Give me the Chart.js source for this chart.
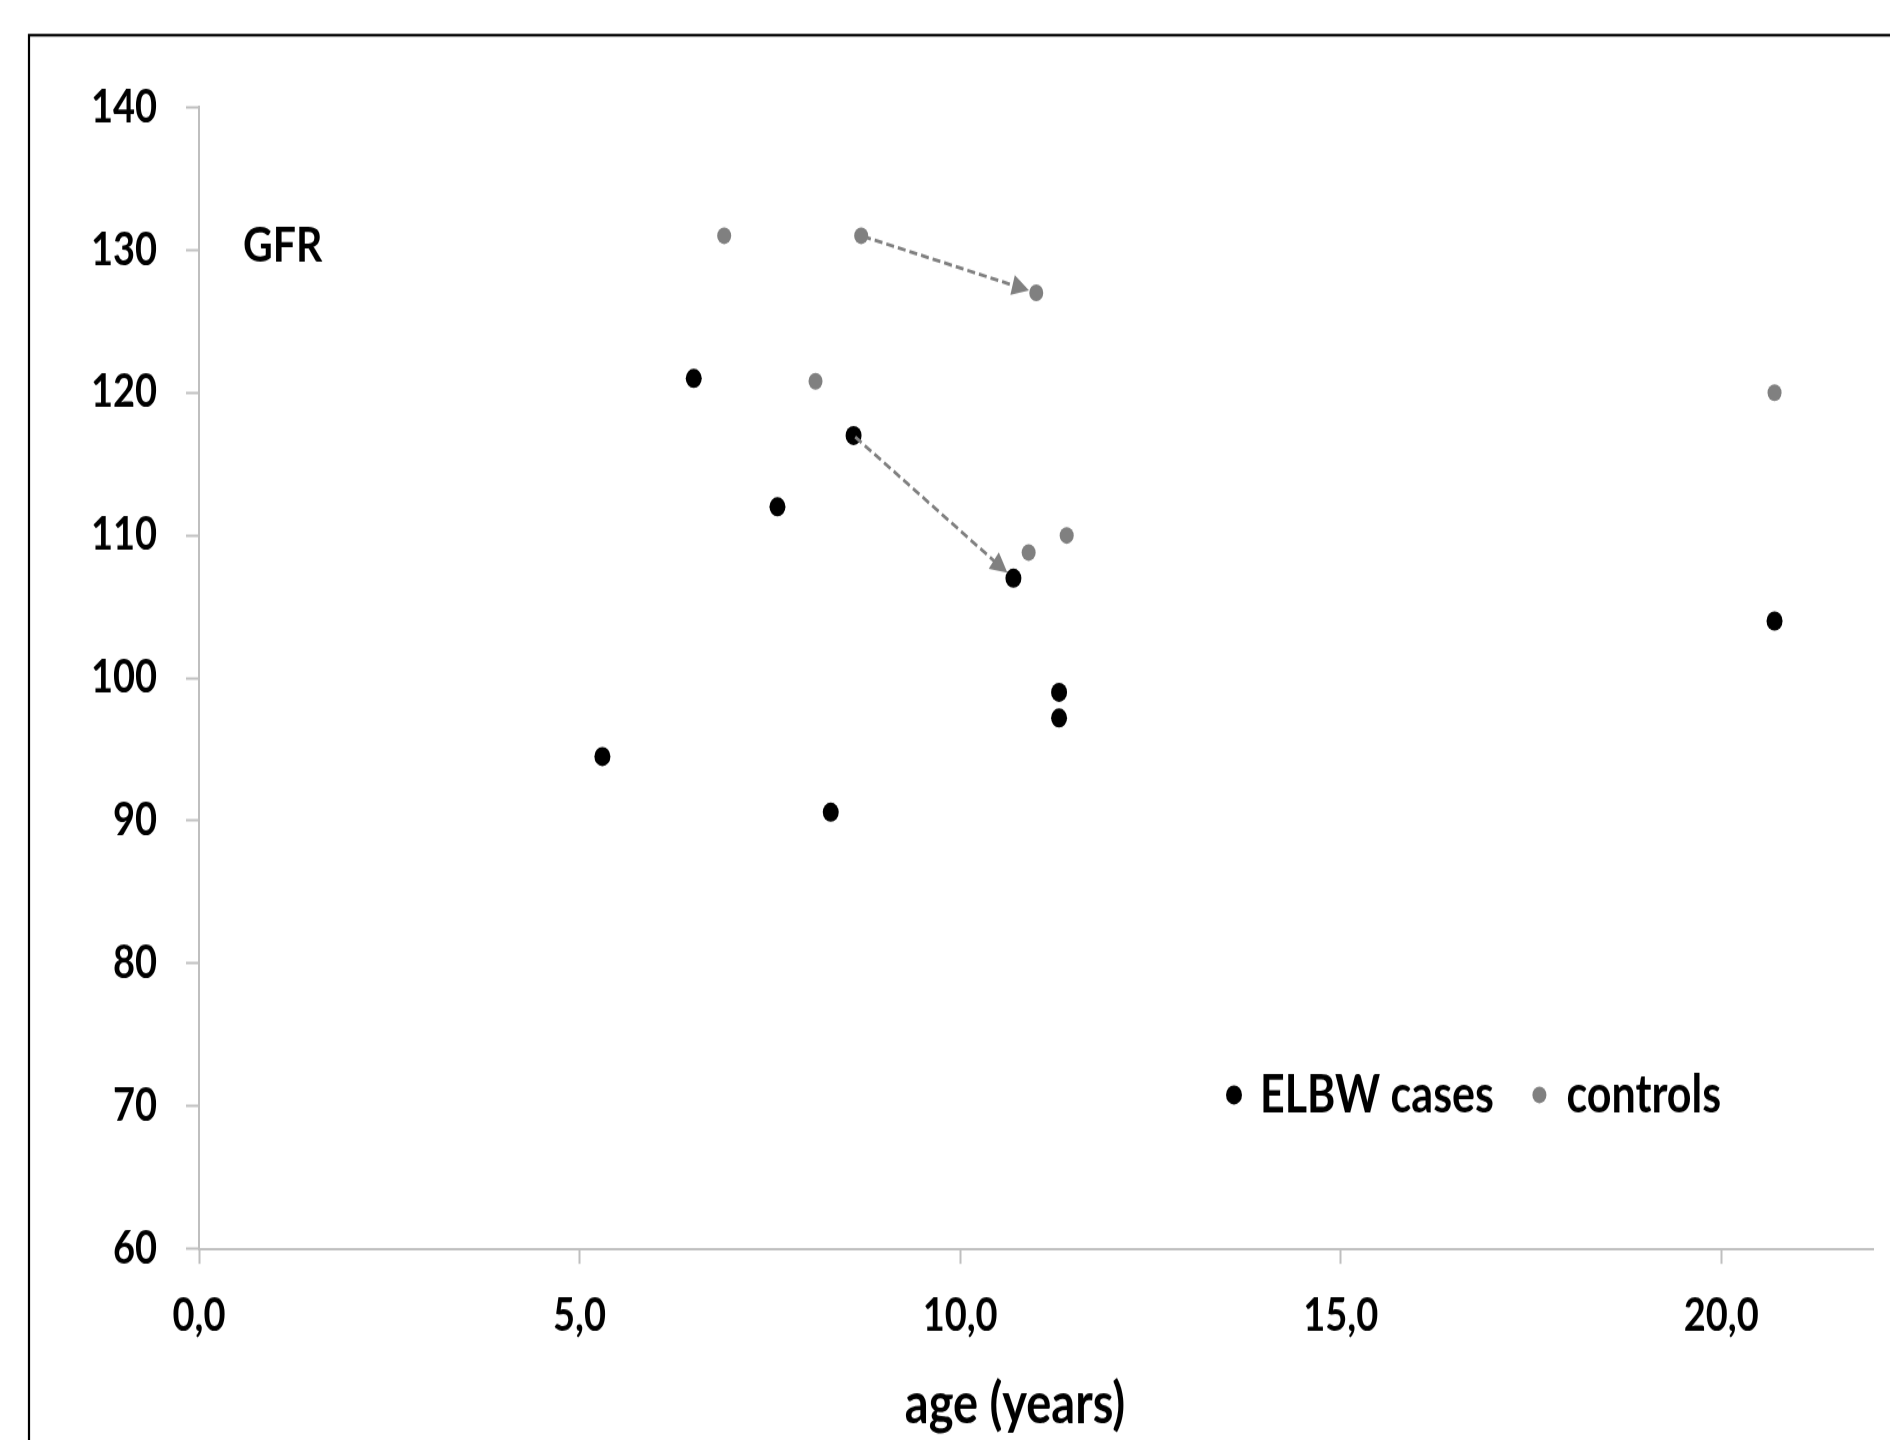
<!DOCTYPE html>
<html>
<head>
<meta charset="utf-8">
<script src="https://cdn.jsdelivr.net/npm/chart.js@4.4.1/dist/chart.umd.min.js"></script>
<style>
  html, body { margin: 0; padding: 0; background: #ffffff; overflow: hidden; }
  #wrap { position: absolute; left: 0; top: 0; width: 1890px; height: 1200px;
          transform: scaleY(1.2); transform-origin: 0 0; }
</style>
</head>
<body>
<div id="wrap"><canvas id="c" width="1890" height="1200"></canvas></div>
<script>
// ---- data ----
const seriesNames = ['ELBW cases', 'controls'];
const elbwAge = [5.3, 6.5, 7.6, 8.3, 8.6, 10.7, 11.3, 11.3, 20.7];
const elbwGFR = [94.5, 121, 112, 90.6, 117, 107, 99, 97.2, 104];
const controlAge = [6.9, 8.1, 8.7, 10.9, 11.0, 11.4, 20.7];
const controlGFR = [131, 120.8, 131, 108.8, 127, 110, 120];
// follow-up arrows (from -> to)
const arrowFromAge = [8.7, 8.6];
const arrowFromGFR = [131, 117];
const arrowToAge = [11.0, 10.7];
const arrowToGFR = [127, 107];
const xTicks = [0, 5, 10, 15, 20];
const xTickLabels = ['0,0', '5,0', '10,0', '15,0', '20,0'];
const yTicks = [60, 70, 80, 90, 100, 110, 120, 130, 140];
const xTitle = 'age (years)';
const panelLabel = 'GFR';

// ---- styling ----
const FONT = 'Lato';
const AXIS_GREY = '#bfbfbf';
const CASE_COLOR = '#000000';
const CONTROL_COLOR = '#808080';

const toPts = (xs, ys) => xs.map((x, i) => ({ x: x, y: ys[i] }));

const decor = {
  id: 'decor',
  beforeDraw(chart) {
    const ctx = chart.ctx;
    ctx.save();
    ctx.fillStyle = '#ffffff';
    ctx.fillRect(0, 0, chart.width, chart.height);
    ctx.strokeStyle = '#000000';
    ctx.lineWidth = 2.2;
    ctx.strokeRect(29, 29.3, chart.width + 100, chart.height + 100);
    ctx.restore();
  },
  afterDatasetsDraw(chart) {
    const ctx = chart.ctx;
    const xs = chart.scales.x, ys = chart.scales.y;
    const ca = chart.chartArea;
    ctx.save();
    // arrows
    for (let i = 0; i < arrowFromAge.length; i++) {
      const x1 = xs.getPixelForValue(arrowFromAge[i]);
      const y1 = ys.getPixelForValue(arrowFromGFR[i]);
      const x2c = xs.getPixelForValue(arrowToAge[i]);
      const y2c = ys.getPixelForValue(arrowToGFR[i]);
      const dx = x2c - x1, dy = y2c - y1;
      const len = Math.hypot(dx, dy);
      const ux = dx / len, uy = dy / len;
      const tipX = x2c - ux * 7.5, tipY = y2c - uy * 7.5;
      const headLen = 17, headW = 8.5;
      const baseX = tipX - ux * headLen, baseY = tipY - uy * headLen;
      ctx.strokeStyle = CONTROL_COLOR;
      ctx.lineWidth = 2.8;
      ctx.setLineDash([8, 4]);
      ctx.beginPath();
      ctx.moveTo(x1 + ux * 2, y1 + uy * 2);
      ctx.lineTo(baseX + ux * 2, baseY + uy * 2);
      ctx.stroke();
      ctx.setLineDash([]);
      ctx.fillStyle = CONTROL_COLOR;
      ctx.beginPath();
      ctx.moveTo(tipX, tipY);
      ctx.lineTo(baseX - uy * headW, baseY + ux * headW);
      ctx.lineTo(baseX + uy * headW, baseY - ux * headW);
      ctx.closePath();
      ctx.fill();
    }
    // panel label
    ctx.fillStyle = '#000000';
    ctx.font = 'bold 41px ' + FONT;
    ctx.textAlign = 'left';
    ctx.textBaseline = 'alphabetic';
    ctx.fillText(panelLabel, ca.left + 44, ca.top + 129);
    // x-axis title
    ctx.font = 'bold 47px ' + FONT;
    ctx.textAlign = 'center';
    ctx.fillText(xTitle, ca.left + 816, 1186);
    // legend (inside plot area, bottom right)
    ctx.font = 'bold 43px ' + FONT;
    ctx.textAlign = 'left';
    let lx = ca.left + 1027;
    const ly = ca.top + 823;
    chart.data.datasets.forEach((ds) => {
      const r = ds.pointRadius;
      ctx.fillStyle = ds.backgroundColor;
      ctx.beginPath();
      ctx.arc(lx + r, ly, r, 0, Math.PI * 2);
      ctx.fill();
      const tx = lx + 34;
      ctx.fillStyle = '#000000';
      ctx.fillText(ds.label, tx, ly + 15);
      lx = tx + ctx.measureText(ds.label).width + 38.5;
    });
    ctx.restore();
  }
};

new Chart(document.getElementById('c'), {
  type: 'scatter',
  data: {
    datasets: [
      { label: seriesNames[0], data: toPts(elbwAge, elbwGFR),
        backgroundColor: CASE_COLOR, borderWidth: 0,
        pointRadius: 8, pointHoverRadius: 8 },
      { label: seriesNames[1], data: toPts(controlAge, controlGFR),
        backgroundColor: CONTROL_COLOR, borderWidth: 0,
        pointRadius: 7, pointHoverRadius: 7 }
    ]
  },
  options: {
    responsive: false,
    animation: false,
    devicePixelRatio: 1,
    layout: { padding: { left: 0, right: 16.5, top: 89.4, bottom: 0 } },
    plugins: { legend: { display: false }, tooltip: { enabled: false } },
    scales: {
      x: {
        type: 'linear', min: 0, max: 22,
        afterBuildTicks: (s) => { s.ticks = xTicks.map(v => ({ value: v })); },
        afterFit: (s) => { s.height = 159.3; },
        border: { display: true, color: AXIS_GREY, width: 2 },
        grid: { drawOnChartArea: false, drawTicks: true, tickLength: 12.5, tickColor: AXIS_GREY, tickWidth: 2 },
        ticks: {
          autoSkip: false, maxRotation: 0, padding: 21, color: '#000000',
          font: { family: FONT, size: 38, weight: 'bold' },
          callback: (v) => { const i = xTicks.indexOf(v); return i >= 0 ? xTickLabels[i] : ''; }
        },
        title: { display: false, text: xTitle }
      },
      y: {
        type: 'linear', min: 60, max: 140,
        afterBuildTicks: (s) => { s.ticks = yTicks.map(v => ({ value: v })); },
        afterFit: (s) => { s.width = 199; },
        border: { display: true, color: AXIS_GREY, width: 2 },
        grid: { drawOnChartArea: false, drawTicks: true, tickLength: 13, tickColor: AXIS_GREY, tickWidth: 2 },
        ticks: {
          autoSkip: false, padding: 29, color: '#000000',
          font: { family: FONT, size: 38, weight: 'bold' }
        }
      }
    }
  },
  plugins: [decor]
});
</script>
</body>
</html>
